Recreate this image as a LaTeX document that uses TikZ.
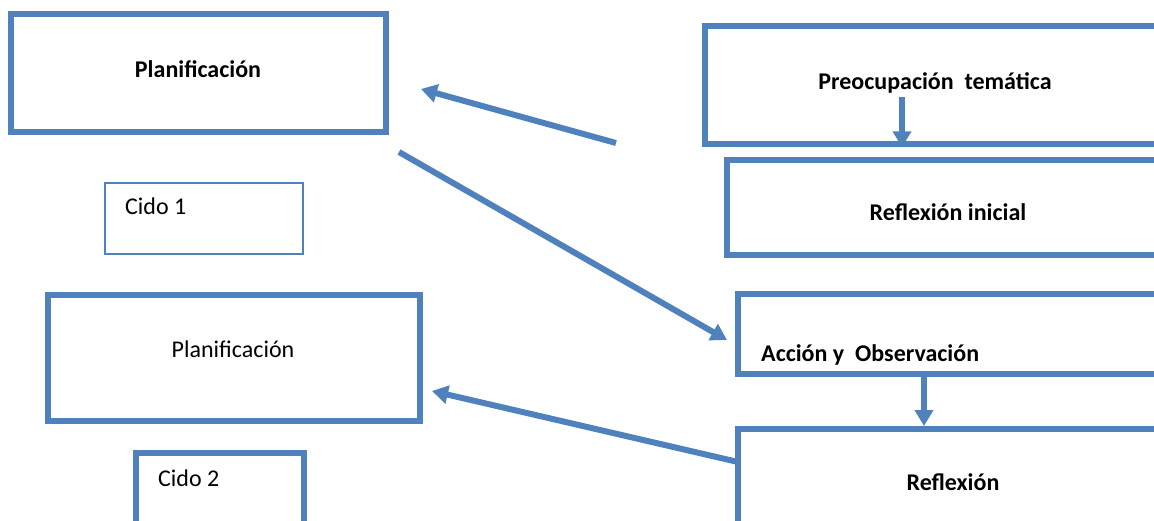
\documentclass[tikz,border=0pt]{standalone}
\usepackage{fontspec}
\setmainfont{Carlito}
\usetikzlibrary{arrows.meta}
\definecolor{boxblue}{HTML}{4F81BD}
\tikzset{
  box/.style={draw=boxblue, line width=6pt, rectangle, inner sep=0pt, font=\fontsize{24}{28}\selectfont\bfseries},
  thinbox/.style={draw=boxblue, line width=1.6pt, rectangle, inner sep=0pt},
  lbl/.style={inner sep=0pt, font=\fontsize{24}{28}\selectfont},
  blbl/.style={inner sep=0pt, font=\fontsize{24}{28}\selectfont\bfseries},
  conn/.style={draw=boxblue, line width=6pt, -{Triangle[width=18pt,length=16pt]}},
}
\begin{document}
\begin{tikzpicture}[x=1pt,y=-1pt]
\useasboundingbox (0,0) rectangle (1154,520);
\clip (0,0) rectangle (1154,520);
% left column
\node[box, minimum width=375pt, minimum height=118pt] (plan1) at (198.5,73) {};
\node[blbl, anchor=base] (plan1t) at (198,77) {Planificación};
\node[thinbox, minimum width=198pt, minimum height=71pt] (ciclo1) at (204,218.5) {};
\node[lbl, anchor=base west] (ciclo1t) at (125,214) {Cido 1};
\node[box, minimum width=372pt, minimum height=126pt] (plan2) at (234,358) {};
\node[lbl, anchor=base] (plan2t) at (233,357) {Planificación};
\node[box, minimum width=168pt, minimum height=90pt] (ciclo2) at (220,498) {};
\node[lbl, anchor=base west] (ciclo2t) at (158,486) {Cido 2};
% right column
\node[box, minimum width=460pt, minimum height=118.5pt] (preoc) at (935,85) {};
\node[blbl, anchor=base] (preoct) at (935,89) {Preocupación\ \ temática};
\node[box, minimum width=442pt, minimum height=95pt] (refini) at (948,207.5) {};
\node[blbl, anchor=base] (refinit) at (948,220) {Reflexión inicial};
\node[box, minimum width=430pt, minimum height=79.5pt] (accion) at (953,334) {};
\node[blbl, anchor=base west] (acciont) at (761,361) {Acción y\ \ Observación};
\node[box, minimum width=430pt, minimum height=108pt] (refl) at (953,483) {};
\node[blbl, anchor=base] (reflt) at (953,490) {Reflexión};
% connectors
\coordinate (a1s) at (616,143);
\coordinate (a1e) at (421,89);
\coordinate (a2s) at (399,152);
\coordinate (a2e) at (727,340);
\coordinate (a3s) at (738,462);
\coordinate (a3e) at (432,391);
\coordinate (d1s) at (902,97);
\coordinate (d2s) at (924,377);
\draw[conn] (a1s) -- (a1e);
\draw[conn] (a2s) -- (a2e);
\draw[conn] (a3s) -- (a3e);
\draw[conn] (d1s) -- (d1s |- preoc.south);
\draw[conn] (d2s) -- (d2s |- refl.north);
\end{tikzpicture}
\end{document}
